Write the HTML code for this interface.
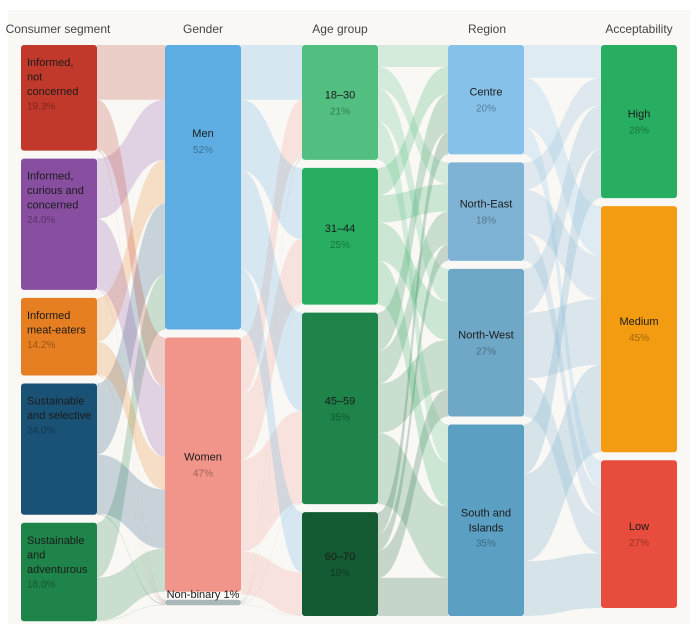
<!DOCTYPE html>
<html><head><meta charset="utf-8">
<style>
body{margin:0;background:#fff;font-family:"Liberation Sans",sans-serif;}
svg{display:block}
text{font-family:"Liberation Sans",sans-serif;}
</style></head>
<body>
<svg id="chart" width="698" height="631">
<rect x="8" y="10" width="682" height="614" fill="#f9f8f5"/>
</svg>
<script>
const columnTitles=["Consumer segment","Gender","Age group","Region","Acceptability"];
const segments=["Informed, not concerned","Informed, curious and concerned","Informed meat-eaters","Sustainable and selective","Sustainable and adventurous"];
const segmentLines=[["Informed,","not","concerned"],["Informed,","curious and","concerned"],["Informed","meat-eaters"],["Sustainable","and selective"],["Sustainable","and","adventurous"]];
const segmentPct=["19.3%","24.0%","14.2%","24.0%","18.0%"];
const genders=["Men","Women","Non-binary"];
const genderPct=["52%","47%","1%"];
const ages=["18–30","31–44","45–59","60–70"];
const agePct=["21%","25%","35%","19%"];
const regions=["Centre","North-East","North-West","South and Islands"];
const regionPct=["20%","18%","27%","35%"];
const accept=["High","Medium","Low"];
const acceptPct=["28%","45%","27%"];
// flows (percent of respondents), rows = source, cols = target
const segToGender=[[10,9,0.3],[11,12.8,0.2],[8,6,0.2],[13,10.8,0.2],[10,7.9,0.1]];
const genderToAge=[[10,13,18,11],[10.5,11.8,16.8,7.9],[0.5,0.2,0.2,0.1]];
const ageToRegion=[[4,4,6,7],[5,5,7,8],[7,6,9,13],[4,3,5,7]];
const regionToAccept=[[6,9,5],[5,8,5],[8,12,7],[9,16,10]];

const colX=[21,165,302,448,601], W=76, TOP=45, GAP=8, K=5.47;
const colors=[["#c0392b","#884ea0","#e67e22","#1a5276","#1e8449"],["#5dade2","#f1948a","#aab7b8"],["#52be80","#27ae60","#1e8449","#145a32"],["#85c1e9","#7fb3d5","#6fa8c7","#5b9fc2"],["#27ae60","#f39c12","#e74c3c"]];
const mats=[segToGender,genderToAge,ageToRegion,regionToAccept];
const names=[segments,genders,ages,regions,accept];
const pcts=[segmentPct,genderPct,agePct,regionPct,acceptPct];
const svg=document.getElementById('chart');
const NS="http://www.w3.org/2000/svg";
function mk(t,a){const e=document.createElementNS(NS,t);for(const k in a)e.setAttribute(k,a[k]);return e;}
// node values
const vals=[];
vals.push(segToGender.map(r=>r.reduce((a,b)=>a+b,0)));
for(let m=0;m<4;m++){const M=mats[m];vals.push(M[0].map((_,j)=>M.reduce((s,r)=>s+r[j],0)));}
const ys=vals.map(v=>{let y=TOP;return v.map(x=>{const o={y0:y,y1:y+x*K};y+=x*K+GAP;return o;});});
// links
const linkG=mk('g',{});svg.appendChild(linkG);
for(let m=0;m<4;m++){
  const M=mats[m];const sOff=ys[m].map(n=>n.y0);const tOff=ys[m+1].map(n=>n.y0);
  const x0=colX[m]+W,x1=colX[m+1],xm=(x0+x1)/2;
  for(let i=0;i<M.length;i++)for(let j=0;j<M[i].length;j++){
    const h=M[i][j]*K;const sy=sOff[i];sOff[i]+=h;
  }
  const sOff2=ys[m].map(n=>n.y0);
  const tStart=[];for(let j=0;j<M[0].length;j++){tStart[j]=ys[m+1][j].y0;}
  const tCur=tStart.slice();
  const srcPos=M.map((r,i)=>{let y=ys[m][i].y0;return r.map(v=>{const p=y;y+=v*K;return p;});});
  for(let j=0;j<M[0].length;j++){
    for(let i=0;i<M.length;i++){
      const h=M[i][j]*K;const sy=srcPos[i][j];const ty=tCur[j];tCur[j]+=h;
      const d=`M${x0},${sy}C${xm},${sy} ${xm},${ty} ${x1},${ty}L${x1},${ty+h}C${xm},${ty+h} ${xm},${sy+h} ${x0},${sy+h}Z`;
      const p=mk('path',{d:d,fill:colors[m][i],'fill-opacity':0.22});
      
      
      linkG.appendChild(p);
    }
  }
}
// titles
const titleX=[58,203,340,487,639];
columnTitles.forEach((t,c)=>{const e=mk('text',{x:titleX[c],y:33,'text-anchor':'middle','font-size':12,fill:'#444'});e.textContent=t;


svg.appendChild(e);});
// nodes
for(let c=0;c<5;c++){
  ys[c].forEach((n,i)=>{
    const g=mk('g',{});
    
    
    const h=Math.max(n.y1-n.y0,3);
    g.appendChild(mk('rect',{x:colX[c],y:n.y0,width:W,height:h,rx:3,fill:colors[c][i]}));
    svg.appendChild(g);
    if(c===0){
      const lines=segmentLines[i];
      lines.forEach((l,k)=>{const t=mk('text',{x:27,y:n.y0+21+k*14.5,'font-size':11,fill:'#1b1b1b'});t.textContent=l;g.appendChild(t);});
      const t=mk('text',{x:27,y:n.y0+21+lines.length*14.5,'font-size':10,fill:'rgba(0,0,0,0.35)'});t.textContent=pcts[c][i];g.appendChild(t);
    } else if(c===1&&i===2){
      const t=mk('text',{x:colX[c]+W/2,y:n.y0-2,'text-anchor':'middle','font-size':11,fill:'#1b1b1b'});t.textContent="Non-binary 1%";g.appendChild(t);
    } else {
      let cy=(n.y0+n.y1)/2;if(c===1&&i===0)cy=n.y0+96;
      const t=mk('text',{x:colX[c]+W/2,y:cy-4,'text-anchor':'middle','font-size':11,fill:'#1b1b1b'});t.textContent=names[c][i]==="South and Islands"?"South and":names[c][i];g.appendChild(t);
      let py=cy+12;
      if(names[c][i]==="South and Islands"){const t2=mk('text',{x:colX[c]+W/2,y:cy+11,'text-anchor':'middle','font-size':11,fill:'#1b1b1b'});t2.textContent="Islands";g.appendChild(t2);py=cy+26;}
      const p=mk('text',{x:colX[c]+W/2,y:py,'text-anchor':'middle','font-size':10,fill:'rgba(0,0,0,0.35)'});p.textContent=pcts[c][i];g.appendChild(p);
    }
  });
}
</script>
</body></html>
